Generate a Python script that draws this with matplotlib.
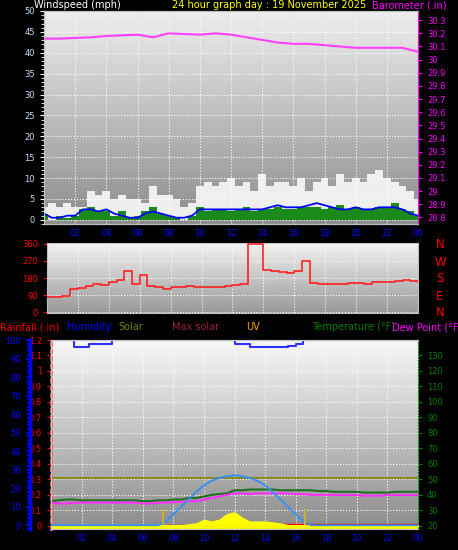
import numpy as np
import matplotlib
matplotlib.use("Agg")
import matplotlib.pyplot as plt
from matplotlib.ticker import FuncFormatter, MultipleLocator

W, H = 458, 550
hours_half = np.arange(0, 24.5, 0.5)
hours = np.arange(0, 25, 1)

baro = [30.16,30.16,30.165,30.17,30.18,30.185,30.19,30.17,30.20,30.195,30.19,30.20,30.19,30.17,30.15,30.13,
        30.12,30.12,30.11,30.10,30.09,30.09,30.09,30.09,30.06]
gust = [3,4,3,4,3,3,7,6,7,5,6,5,5,4,8,6,6,5,3,4,8,9,8,9,10,8,9,7,11,8,9,9,8,10,7,9,10,8,11,9,10,9,11,12,10,9,8,7,5]
wind_avg = [1.5,0.5,0.5,1,1,2.5,2.5,2,2.5,1.5,1,0.5,0.5,1.5,2,1.5,1,0.5,0.5,1,2.5,2.5,2.5,2.5,2.5,2.5,2.5,2.5,
            2.5,3,3.5,3,3,3,3.5,4,3.5,3,2.5,2.5,3,2.5,2.5,3,3,3,2.5,1.5,1]
wind_spd = [1.5,0,1,0.5,1,2.5,3,2,2,1,2,0.5,1,2,3,1.5,1,0.5,0,1,3,2,2.5,2.5,2,2.5,3,2,2.5,2.5,3,2.5,2.5,3,3,3,2.5,
            3,3.5,2.5,3,2.5,2.5,3,3,4,2.5,2,1]
wdir = [80,80,85,120,125,140,150,145,160,170,215,150,195,140,135,120,130,135,140,130,135,130,130,140,145,150,
        360,360,220,215,210,205,215,270,155,150,150,150,150,155,155,150,160,160,160,165,170,165,160]
hum = [100,100,100,96,96,98,98,98,100,100,100,100,100,100,100,100,100,100,100,100,100,100,100,100,98,98,96,96,96,96,96,97,98,100,100,100,100,100,100,100,100,100,100,100,100,100,100,100,100]
temp = [36,36.5,37,37,36.5,36.5,36.5,36.5,36.5,36.5,36.5,36.5,36,36,36.5,36.5,37,37,38,38,39,40,40.5,41,43,43,43.5,43.5,43.5,43.5,43,43,43,43,43,42.5,42.5,42,42,42,42,41.5,41.5,41.5,41.5,42,42,42,42]
dew = [35,34.5,34.5,35,35,35,35,35,35,35,35,35,34.5,34.5,35,35,35.5,35.5,36,36,37,38,39,40,41,41,40.5,41,41,41,41,41,40.5,40.5,40,40,40,40,40,40,40,39.5,39.5,39.5,40,40,40,40,40]
solar_max = [0,0,0,0,0,0,0,0,0,0,0,0,0,0,0,2,6,10,14,18,21.5,24,25.5,26.5,27,26.5,25.5,24,21.5,18,14,10,6,2,0,0,0,0,0,0,0,0,0,0,0,0,0,0,0]
solar = [0,0,0,0,0,0,0,0,0,0,0,0,0,0,0,0,0,0,0.5,1,3,2,3,6,7,4,2,2,2,1.5,1,0,0,0,0,0,0,0,0,0,0,0,0,0,0,0,0,0,0]
uv_line = 51
rain = [0,0,0,0,0,0,0,0,0,0,0,0,0,0,0,0.005,0.005,0.005,0.005,0.005,0.01,0.01,0.01,0.01,0.01,0.01,0.01,0.01,0.01,0.01,0.01,0.01,0.01,0.01,0.01,0.01,0.01,0.01,0.01,0.01,0.01,0.01,0.01,0.01,0.01,0.01,0.01,0.01,0.01]
hour_labels = ["02","04","06","08","10","12","14","16","18","20","22","00"]

fig = plt.figure(figsize=(W/100, H/100), dpi=100, facecolor="black")
FS = 6

def ax_at(x0, y0, x1, y1):
    return fig.add_axes([x0/W, 1-y1/H, (x1-x0)/W, (y1-y0)/H])

def bg(ax, top=0.93, bot=0.55):
    g = np.linspace(top, bot, 100)[:, None]
    ax.imshow(np.dstack([g, g, g]), extent=[0, 1, 0, 1], transform=ax.transAxes,
              aspect="auto", zorder=0)
    ax.grid(True, color="white", ls=":", lw=0.8, zorder=1)

def style(ax, lc):
    ax.set_facecolor("#c0c0c0")
    for s in ax.spines.values():
        s.set_color("#c0c0c0")
    ax.tick_params(axis="y", colors=lc, labelsize=FS, length=3)
    ax.tick_params(axis="x", colors="blue", labelsize=FS, length=0)

def num(v, p):
    return ("%.1f" % v).rstrip("0").rstrip(".") if abs(v) > 1e-9 else "0"

# ---- top panel
ax1 = ax_at(44, 11, 418, 224)
style(ax1, "white")
bg(ax1)
ax1.set_xlim(0, 24)
ax1.set_ylim(-1, 50)
ax1.set_yticks(np.arange(0, 51, 5))
ax1.yaxis.set_minor_locator(MultipleLocator(1))
ax1.tick_params(axis="y", which="both", colors="white", labelcolor="#c8e0ff")
ax1.set_xticks(np.arange(2, 25, 2))
ax1.set_xticklabels(hour_labels)
ax1.bar(hours_half, gust, width=0.5, color="white", alpha=0.85, zorder=2)
ax1.bar(hours_half, wind_spd, width=0.5, color="#1a8a1a", zorder=3)
ax1.plot(hours_half, wind_avg, color="blue", lw=1.3, zorder=4)
ax1b = ax1.twinx()
ax1b.set_ylim(28.75, 30.37)
ax1b.set_yticks(np.round(np.arange(28.8, 30.31, 0.1), 1))
ax1b.yaxis.set_major_formatter(FuncFormatter(num))
ax1b.tick_params(axis="y", colors="magenta", labelsize=FS, length=3)
for s in ax1b.spines.values():
    s.set_color("#c0c0c0")
ax1b.spines["right"].set_color("magenta")
ax1b.plot(hours, baro, color="#ff40ff", lw=1.5)
fig.text(34/W, 1-5/H, "Windspeed (mph)", color="white", fontsize=7, va="center")
fig.text(172/W, 1-5/H, "24 hour graph day : 19 November 2025", color="yellow", fontsize=7, va="center")
fig.text(372/W, 1-5/H, "Barometer (.in)", color="magenta", fontsize=7, va="center")

# ---- middle panel
ax2 = ax_at(47, 243, 418, 313)
style(ax2, "red")
bg(ax2, 0.95, 0.6)
ax2.set_xlim(0, 24)
ax2.set_ylim(-5, 365)
ax2.set_yticks([0, 90, 180, 270, 360])
ax2.set_xticks(np.arange(2, 25, 2))
ax2.set_xticklabels([])
ax2.plot(hours_half, wdir, color="#ff2020", lw=1.2, drawstyle="steps-post", zorder=3)
for i, l in enumerate("NWSEN"):
    fig.text(440/W, 1-(245+i*17)/H, l, color="red", fontsize=8.5, ha="center", va="center")

# legend row
for x, t, c in [(0, "Rainfall (.in)", "red"), (67, "Humidity", "blue"), (118, "Solar", "olive"),
                (172, "Max solar", "#a02040"), (246, "UV", "orange"), (312, "Temperature (°F)", "green"),
                (392, "Dew Point (°F", "magenta")]:
    fig.text(x/W, 1-327/H, t, color=c, fontsize=7, va="center")

# ---- bottom panel
ax3 = ax_at(51, 340, 418, 529)
style(ax3, "red")
bg(ax3, 0.97, 0.55)
ax3.set_xlim(0, 24)
ax3.set_ylim(-0.02, 1.2)
ax3.set_yticks(np.round(np.arange(0, 1.21, 0.1), 1))
ax3.yaxis.set_major_formatter(FuncFormatter(num))
ax3.set_xticks(np.arange(2, 25, 2))
ax3.set_xticklabels(hour_labels)
ax3.spines["left"].set_color("#ff6060")
ax3.spines["left"].set_linestyle(":")
ax3.spines["left"].set_linewidth(2)
ax3.fill_between(hours_half, 0, rain, color="red", step="post", zorder=4)
ax3.axhline(-0.01, color="yellow", lw=2, zorder=4)

axh = fig.add_axes(ax3.get_position())
axh.patch.set_visible(False)
axh.set_xlim(0, 24)
axh.set_ylim(-2, 100)
axh.set_xticks([])
axh.set_yticks([])
for s in axh.spines.values():
    s.set_visible(False)
axh.plot(hours_half, hum, color="#3030ff", lw=1.5, drawstyle="steps-post")

axhl = ax_at(30, 340, 31, 529)
axhl.set_ylim(-2, 100)
axhl.set_xticks([])
axhl.patch.set_visible(False)
for k in ["top", "bottom", "right"]:
    axhl.spines[k].set_visible(False)
axhl.spines["left"].set_color("blue")
axhl.spines["left"].set_linewidth(2.5)
axhl.set_yticks(np.arange(0, 101, 10))
axhl.yaxis.set_minor_locator(MultipleLocator(2))
axhl.tick_params(axis="y", which="both", colors="blue", labelsize=FS, length=3, width=1.2)
axhl.tick_params(axis="y", which="minor", length=2)

axt = ax3.twinx()
axt.set_ylim(18, 140)
axt.set_yticks(np.arange(20, 131, 10))
axt.tick_params(axis="y", colors="green", labelsize=FS, length=3)
for s in axt.spines.values():
    s.set_color("#c0c0c0")
axt.spines["right"].set_color("green")
axt.spines["right"].set_linestyle(":")
axt.axhline(uv_line, color="#8a8a20", lw=1.5)
axt.plot(hours_half, temp, color="#207020", lw=1.5)
axt.plot(hours_half, dew, color="#ff30ff", lw=1.5)

axs = fig.add_axes(ax3.get_position())
axs.patch.set_visible(False)
axs.set_xlim(0, 24)
axs.set_ylim(-2, 100)
axs.set_xticks([])
axs.set_yticks([])
for s in axs.spines.values():
    s.set_visible(False)
axs.fill_between(hours_half, 0, solar, color="yellow")
axs.plot(hours_half, solar_max, color="#3090ff", lw=1.3)
axs.vlines([7.3, 16.6], 0, 9, color="#c8b030", lw=1.5)

fig.savefig("out.png", dpi=100, facecolor="black")
